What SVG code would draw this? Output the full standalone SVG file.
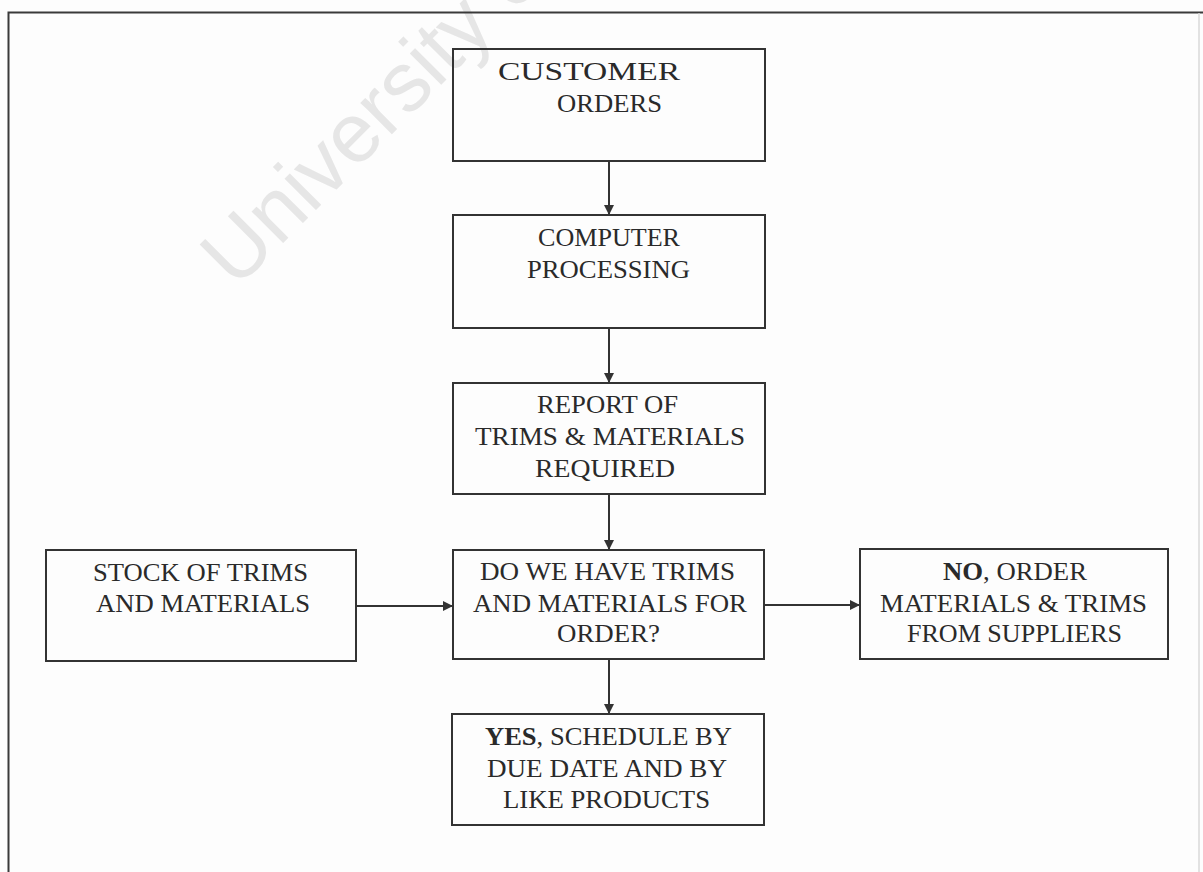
<svg xmlns="http://www.w3.org/2000/svg" width="1203" height="872" viewBox="0 0 1203 872">
<style>
.bg{fill:#fdfdfd}
.frame{stroke:#3a3a3a;stroke-width:2;fill:none}
.box{fill:none;stroke:#333;stroke-width:2}
.lbl{font-family:"Liberation Serif","Times New Roman",serif;font-size:26px;fill:#2a2a2a}
.b{font-weight:bold}
.conn{stroke:#333;stroke-width:2;fill:none}
.wm{font-family:"Liberation Sans",Arial,sans-serif;font-size:84px;fill:#e6e6e6}
</style>
<defs>
<marker id="ah" viewBox="0 0 10 10" refX="10" refY="5" markerWidth="5" markerHeight="5" orient="auto" markerUnits="strokeWidth">
<path d="M0,0 L10,5 L0,10 z" fill="#333"/>
</marker>
</defs>
<rect class="bg" x="0" y="0" width="1203" height="872"/>
<text class="wm" x="236" y="290" transform="rotate(-45 236 290)">University o</text>
<path class="frame" d="M8.5,872 V12.5 H1203"/>
<line x1="1199" y1="13" x2="1199" y2="872" stroke="#d8d8d8" stroke-width="1.5"/>

<g id="connectors">
<line class="conn" x1="609" y1="161" x2="609" y2="215" marker-end="url(#ah)"/>
<line class="conn" x1="609" y1="328" x2="609" y2="383" marker-end="url(#ah)"/>
<line class="conn" x1="609" y1="494" x2="609" y2="550" marker-end="url(#ah)"/>
<line class="conn" x1="356" y1="606" x2="453" y2="606" marker-end="url(#ah)"/>
<line class="conn" x1="765" y1="605" x2="860" y2="605" marker-end="url(#ah)"/>
<line class="conn" x1="609" y1="660" x2="609" y2="714" marker-end="url(#ah)"/>
</g>

<g id="customer-orders">
<rect class="box" x="453" y="49" width="312" height="112"/>
<text class="lbl" x="498" y="80" textLength="182" lengthAdjust="spacingAndGlyphs">CUSTOMER</text>
<text class="lbl" x="557" y="112" textLength="105" lengthAdjust="spacingAndGlyphs">ORDERS</text>
</g>

<g id="computer-processing">
<rect class="box" x="453" y="215" width="312" height="113"/>
<text class="lbl" x="538" y="246" textLength="142" lengthAdjust="spacingAndGlyphs">COMPUTER</text>
<text class="lbl" x="527" y="278" textLength="163" lengthAdjust="spacingAndGlyphs">PROCESSING</text>
</g>

<g id="report">
<rect class="box" x="453" y="383" width="312" height="111"/>
<text class="lbl" x="537" y="413" textLength="141" lengthAdjust="spacingAndGlyphs">REPORT OF</text>
<text class="lbl" x="475" y="445" textLength="270" lengthAdjust="spacingAndGlyphs">TRIMS &amp; MATERIALS</text>
<text class="lbl" x="535" y="477" textLength="140" lengthAdjust="spacingAndGlyphs">REQUIRED</text>
</g>

<g id="stock">
<rect class="box" x="46" y="550" width="310" height="111"/>
<text class="lbl" x="93" y="581" textLength="215" lengthAdjust="spacingAndGlyphs">STOCK OF TRIMS</text>
<text class="lbl" x="96" y="612" textLength="214" lengthAdjust="spacingAndGlyphs">AND MATERIALS</text>
</g>

<g id="decision">
<rect class="box" x="453" y="550" width="311" height="109"/>
<text class="lbl" x="480" y="580" textLength="255" lengthAdjust="spacingAndGlyphs">DO WE HAVE TRIMS</text>
<text class="lbl" x="473" y="612" textLength="274" lengthAdjust="spacingAndGlyphs">AND MATERIALS FOR</text>
<text class="lbl" x="557" y="642" textLength="103" lengthAdjust="spacingAndGlyphs">ORDER?</text>
</g>

<g id="no-order">
<rect class="box" x="860" y="549" width="308" height="110"/>
<text class="lbl" x="943" y="580" textLength="144" lengthAdjust="spacingAndGlyphs"><tspan class="b">NO</tspan>, ORDER</text>
<text class="lbl" x="880" y="612" textLength="267" lengthAdjust="spacingAndGlyphs">MATERIALS &amp; TRIMS</text>
<text class="lbl" x="907" y="642" textLength="215" lengthAdjust="spacingAndGlyphs">FROM SUPPLIERS</text>
</g>

<g id="yes-schedule">
<rect class="box" x="452" y="714" width="312" height="111"/>
<text class="lbl" x="485" y="745" textLength="247" lengthAdjust="spacingAndGlyphs"><tspan class="b">YES</tspan>, SCHEDULE BY</text>
<text class="lbl" x="487" y="777" textLength="240" lengthAdjust="spacingAndGlyphs">DUE DATE AND BY</text>
<text class="lbl" x="503" y="808" textLength="207" lengthAdjust="spacingAndGlyphs">LIKE PRODUCTS</text>
</g>
</svg>
